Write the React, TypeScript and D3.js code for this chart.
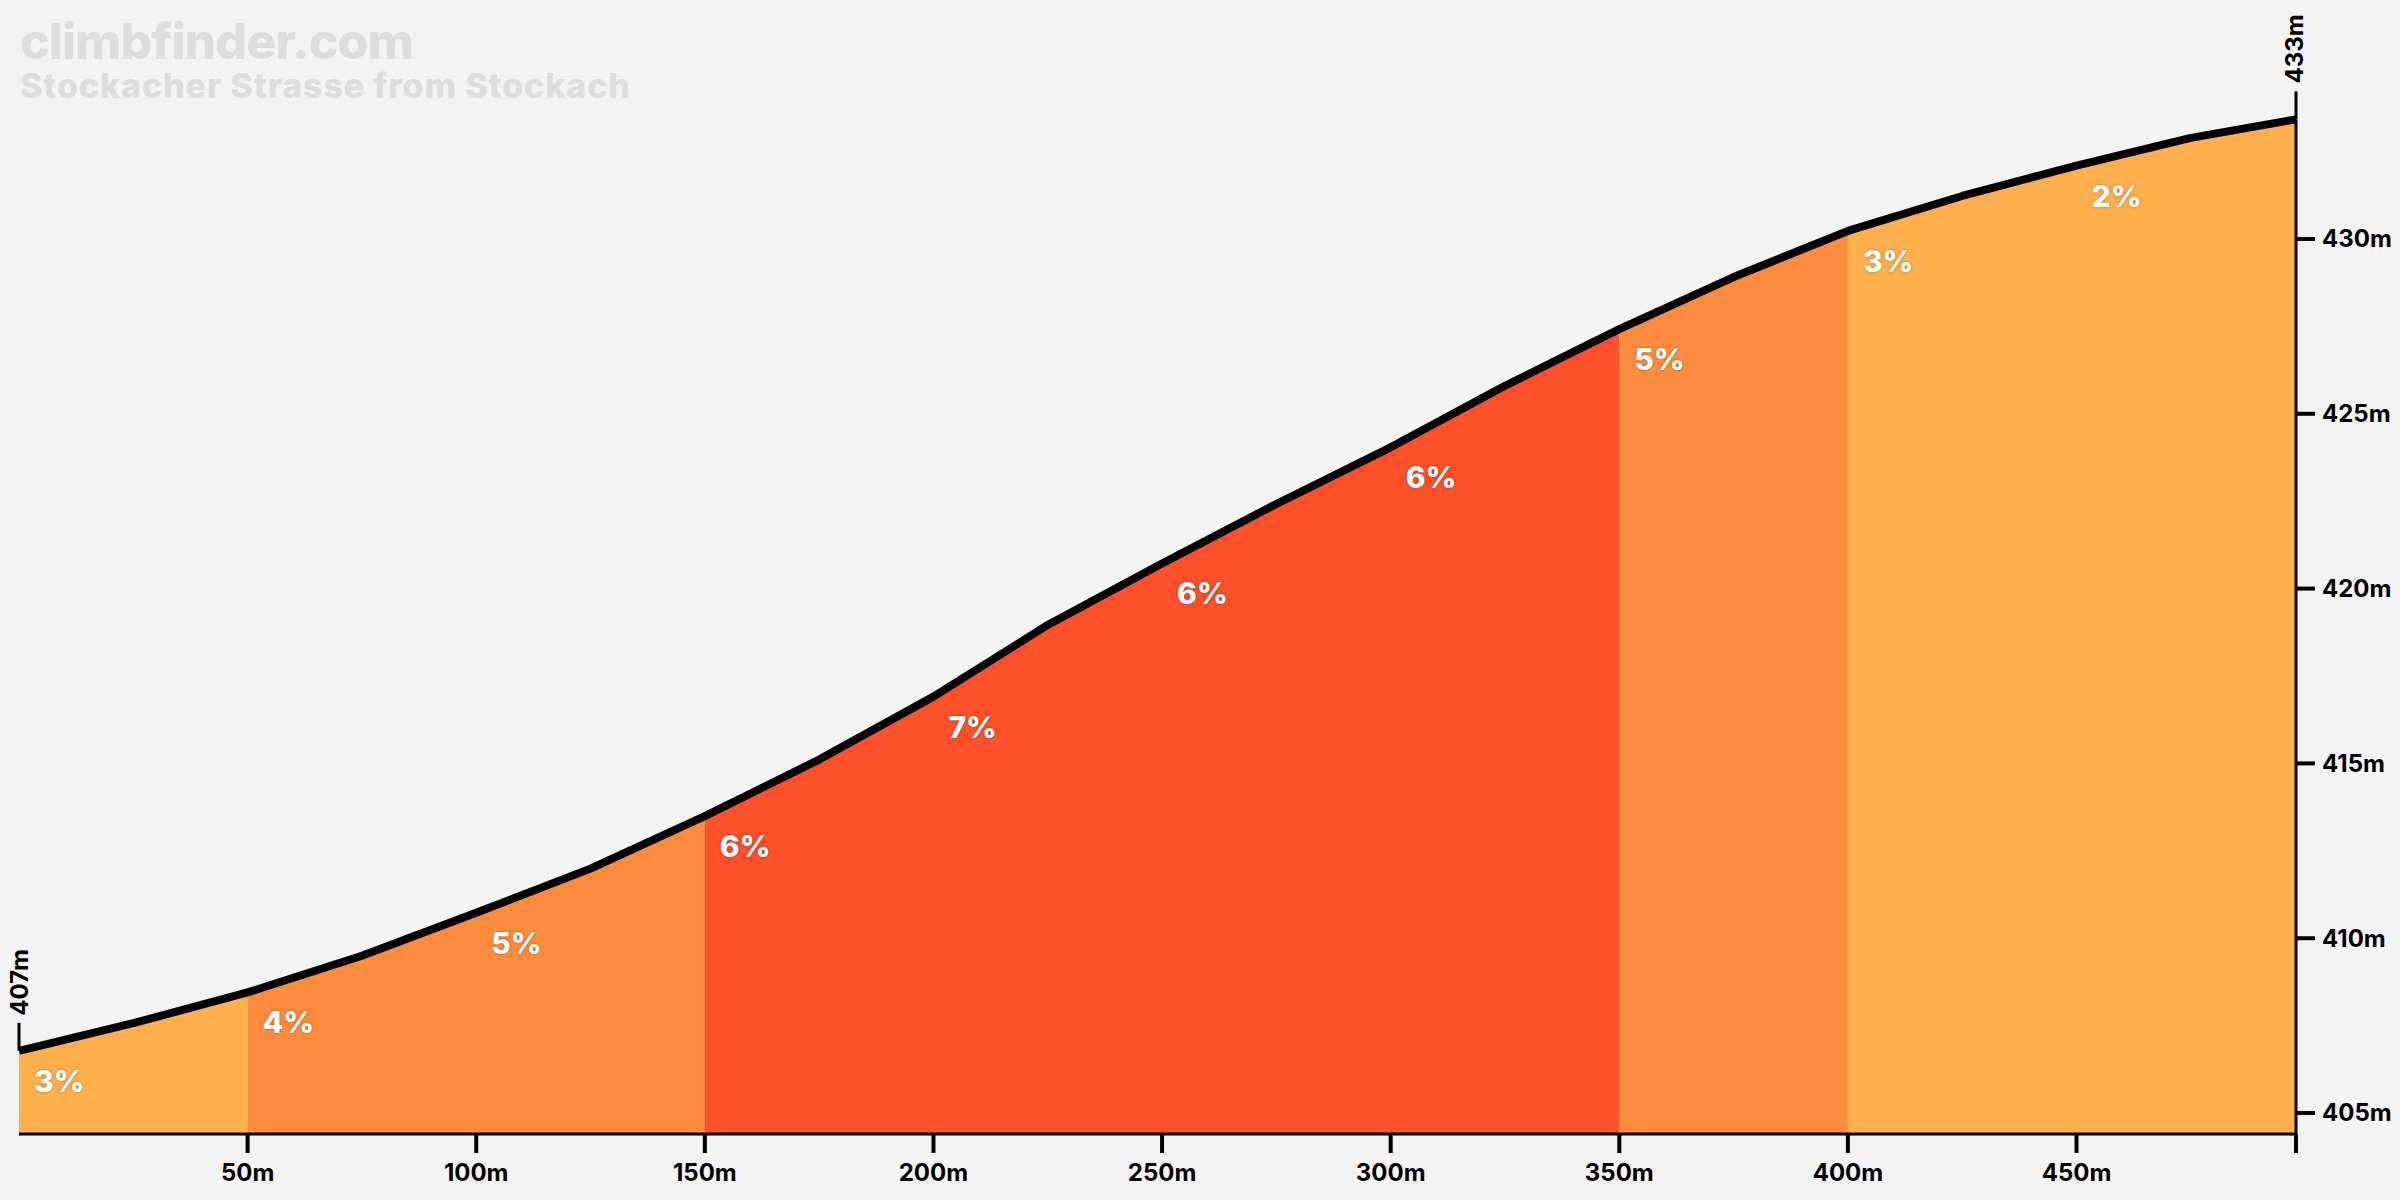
import React from "react";
import * as d3 from "d3";

const distances = [0, 25, 50, 75, 100, 125, 150, 175, 200, 225, 250, 275, 300, 325, 350, 375, 400, 425, 450, 475, 498];
const elevations = [406.78, 407.57, 408.45, 409.5, 410.73, 411.99, 413.49, 415.11, 416.91, 418.96, 420.72, 422.42, 424.04, 425.8, 427.42, 428.91, 430.23, 431.23, 432.1, 432.89, 433.42];

const segmentStarts = [0, 50, 100, 150, 200, 250, 300, 350, 400, 450];
const segmentEnds = [50, 100, 150, 200, 250, 300, 350, 400, 450, 498];
const segmentGrades = [3, 4, 5, 6, 7, 6, 6, 5, 3, 2];

const xTicks = [50, 100, 150, 200, 250, 300, 350, 400, 450];
const yTicks = [405, 410, 415, 420, 425, 430];

const titleText = "climbfinder.com";
const subtitleText = "Stockacher Strasse from Stockach";
const startLabel = "407m";
const endLabel = "433m";

const W = 2400;
const H = 1200;
const FONT = "Inter, 'Noto Sans', sans-serif";

function gradeColor(g: number): string {
  if (g >= 6) return "#fe502a";
  if (g >= 4) return "#fe8c3c";
  return "#ffb04c";
}

export default function App() {
  const x = d3.scaleLinear().domain([0, 498]).range([19, 2296]);
  const y = d3.scaleLinear().domain([404.4, 433.42]).range([1134, 119.4]);
  const pts: [number, number][] = distances.map((d, i) => [d, elevations[i]]);
  const elevAt = (d: number) => {
    const i = d3.bisectLeft(distances, d);
    if (distances[i] === d) return elevations[i];
    const a = i - 1;
    const t = (d - distances[a]) / (distances[i] - distances[a]);
    return elevations[a] + t * (elevations[i] - elevations[a]);
  };
  const line = d3
    .line<[number, number]>()
    .x((p) => x(p[0]))
    .y((p) => y(p[1]));
  const area = d3
    .area<[number, number]>()
    .x((p) => x(p[0]))
    .y0(y(404.4))
    .y1((p) => y(p[1]));

  const blocks: { s: number; e: number; c: string }[] = [];
  segmentStarts.forEach((s, i) => {
    const c = gradeColor(segmentGrades[i]);
    const last = blocks[blocks.length - 1];
    if (last && last.c === c) last.e = segmentEnds[i];
    else blocks.push({ s, e: segmentEnds[i], c });
  });

  const baseY = y(404.4);
  const x0 = x(0);
  const x1 = x(498);

  return (
    <svg
      width={W}
      height={H}
      style={{ position: "absolute", left: 0, top: 0, background: "#f3f3f3" }}
      fontFamily={FONT}
    >
      <rect x={0} y={0} width={W} height={H} fill="#f3f3f3" />
      <text x={20} y={59} fontSize={50} fontWeight={800} fill="#dddddd" letterSpacing={-1}>
        {titleText}
      </text>
      <text x={20} y={98} fontSize={34} fontWeight={800} fill="#dddddd" letterSpacing={0.9}>
        {subtitleText}
      </text>

      {blocks.map((b, i) => {
        const segPts: [number, number][] = [[b.s, elevAt(b.s)]];
        pts.forEach((p) => {
          if (p[0] > b.s && p[0] < b.e) segPts.push(p);
        });
        segPts.push([b.e, elevAt(b.e)]);
        return <path key={"a" + i} d={area(segPts) || ""} fill={b.c} />;
      })}

      {segmentStarts.map((s, i) => (
        <text
          key={"g" + i}
          x={x(s) + 15}
          y={y(elevAt(s)) + 41}
          fontSize={30}
          fontWeight={800}
          fill="#ffffff"
          style={{ textShadow: "0 0 3px rgba(0,0,0,0.35)" }}
        >
          {segmentGrades[i] + "%"}
        </text>
      ))}

      <line x1={x0} x2={x1} y1={baseY} y2={baseY} stroke="#000" strokeWidth={3} />
      {xTicks.map((t) => (
        <g key={"xt" + t}>
          <line x1={x(t)} x2={x(t)} y1={baseY} y2={baseY + 19} stroke="#000" strokeWidth={4} />
          <text x={x(t)} y={1181} fontSize={24} fontWeight={700} textAnchor="middle" fill="#000">
            {t + "m"}
          </text>
        </g>
      ))}
      <line x1={x1} x2={x1} y1={baseY} y2={baseY + 19} stroke="#000" strokeWidth={4} />

      <line x1={x1} x2={x1} y1={baseY} y2={y(elevations[elevations.length - 1])} stroke="#000" strokeWidth={3} />
      {yTicks.map((t) => (
        <g key={"yt" + t}>
          <line x1={x1} x2={x1 + 19} y1={y(t)} y2={y(t)} stroke="#000" strokeWidth={4} />
          <text x={x1 + 26} y={y(t)} dy="0.35em" fontSize={24} fontWeight={700} fill="#000">
            {t + "m"}
          </text>
        </g>
      ))}

      <path d={line(pts) || ""} fill="none" stroke="#000" strokeWidth={8} strokeLinejoin="round" />

      <line x1={x0} x2={x0} y1={y(elevations[0]) - 28} y2={y(elevations[0])} stroke="#000" strokeWidth={3} />
      <text
        transform={`translate(${x0 + 9},${y(elevations[0]) - 35}) rotate(-90)`}
        fontSize={24}
        fontWeight={700}
        fill="#000"
      >
        {startLabel}
      </text>

      <line
        x1={x1}
        x2={x1}
        y1={y(elevations[elevations.length - 1]) - 28}
        y2={y(elevations[elevations.length - 1])}
        stroke="#000"
        strokeWidth={3}
      />
      <text
        transform={`translate(${x1 + 7},${y(elevations[elevations.length - 1]) - 36}) rotate(-90)`}
        fontSize={24}
        fontWeight={700}
        fill="#000"
      >
        {endLabel}
      </text>
    </svg>
  );
}
